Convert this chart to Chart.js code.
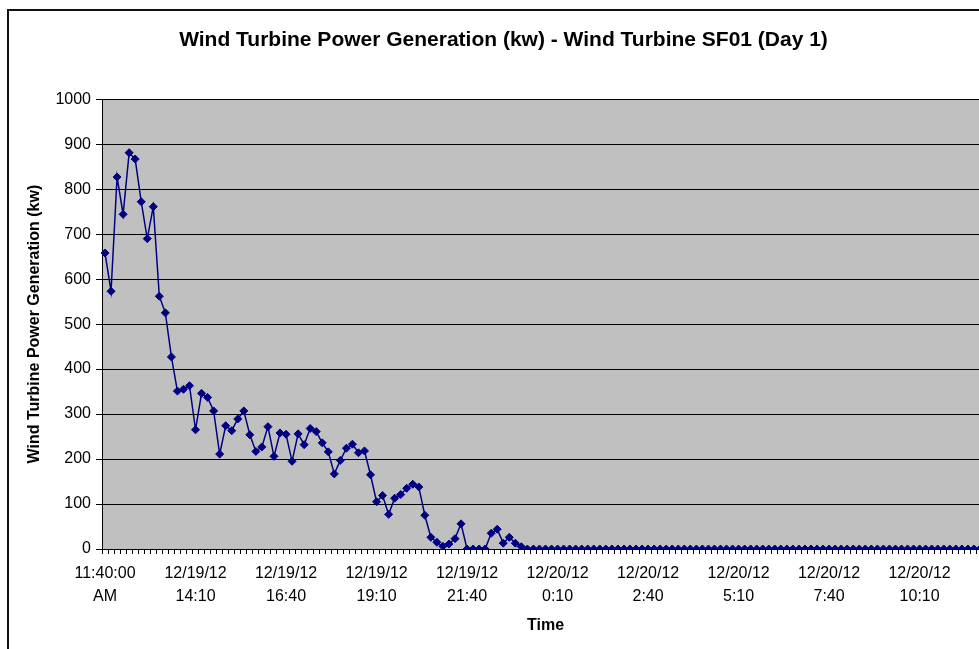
<!DOCTYPE html>
<html>
<head>
<meta charset="utf-8">
<script src="https://cdn.jsdelivr.net/npm/chart.js@4.4.1/dist/chart.umd.min.js"></script>
<style>
  html, body { margin: 0; padding: 0; width: 979px; height: 649px; overflow: hidden; background: #fff; }
  #frame { position: absolute; left: 7px; top: 9px; width: 994px; height: 700px; border: 2px solid #111; box-sizing: border-box; }
  #c { position: absolute; left: 0; top: 0; }
</style>
</head>
<body>
<div id="frame"></div>
<canvas id="c" width="1001" height="649"></canvas>
<script>
// Power (kw), one reading every 10 minutes starting 12/19/12 11:40
const power = [
  658, 573, 827, 744, 881, 867, 772, 690, 761, 562,
  525, 427, 351, 355, 363, 265, 346, 337, 307, 211,
  274, 263, 289, 307, 254, 217, 227, 272, 206, 258,
  255, 195, 256, 232, 268, 261, 236, 216, 167, 197,
  224, 233, 214, 218, 165, 105, 119, 77, 113, 121,
  135, 144, 138, 75, 26, 15, 6, 11, 23, 56,
  0, 0, 0, 0, 35, 44, 13, 26, 13, 5,
  0, 0, 0, 0, 0, 0, 0, 0, 0, 0,
  0, 0, 0, 0, 0, 0, 0, 0, 0, 0,
  0, 0, 0, 0, 0, 0, 0, 0, 0, 0,
  0, 0, 0, 0, 0, 0, 0, 0, 0, 0,
  0, 0, 0, 0, 0, 0, 0, 0, 0, 0,
  0, 0, 0, 0, 0, 0, 0, 0, 0, 0,
  0, 0, 0, 0, 0, 0, 0, 0, 0, 0,
  0, 0, 0, 0, 0, 0, 0
];

// Axis labels shown every 15 readings (2.5 h)
const tickLabels = [
  ["11:40:00", "AM"],
  ["12/19/12", "14:10"],
  ["12/19/12", "16:40"],
  ["12/19/12", "19:10"],
  ["12/19/12", "21:40"],
  ["12/20/12", "0:10"],
  ["12/20/12", "2:40"],
  ["12/20/12", "5:10"],
  ["12/20/12", "7:40"],
  ["12/20/12", "10:10"]
];
const tickEvery = 15;

const yTicks = [0, 100, 200, 300, 400, 500, 600, 700, 800, 900, 1000];

// category names: timestamps every 10 minutes
const categories = power.map((_, i) => {
  const m = 11 * 60 + 40 + i * 10;
  const day = m >= 1440 ? 20 : 19;
  const mm = m % 1440;
  return "12/" + day + "/12 " + Math.floor(mm / 60) + ":" + String(mm % 60).padStart(2, "0");
});

const FONT = "'Liberation Sans', Arial, sans-serif";

const plotBg = {
  id: 'plotBg',
  beforeDraw(chart) {
    const a = chart.chartArea, ctx = chart.ctx;
    ctx.save();
    ctx.fillStyle = '#C0C0C0';
    ctx.fillRect(a.left, a.top, a.right - a.left, a.bottom - a.top);
    ctx.restore();
  }
};

new Chart(document.getElementById('c'), {
  type: 'line',
  data: {
    labels: categories,
    datasets: [{
      data: power,
      borderColor: '#000080',
      backgroundColor: '#000080',
      borderWidth: 1.5,
      pointStyle: 'rectRot',
      pointRadius: 4,
      pointBorderWidth: 1,
      pointBackgroundColor: '#000080',
      pointBorderColor: '#000080',
      tension: 0,
      fill: false
    }]
  },
  options: {
    responsive: false,
    animation: false,
    devicePixelRatio: 1,
    layout: { padding: { left: 18, right: 12, top: 0, bottom: 0 } },
    plugins: {
      legend: { display: false },
      tooltip: { enabled: false },
      title: {
        display: true,
        text: 'Wind Turbine Power Generation (kw) - Wind Turbine SF01 (Day 1)',
        color: '#000',
        font: { family: FONT, size: 21, weight: 'bold', lineHeight: 1.2 },
        padding: { top: 28, bottom: 46 }
      }
    },
    scales: {
      x: {
        type: 'category',
        offset: true,
        afterFit(s) { s.height = 100; },
        border: { display: true, color: '#000', width: 1 },
        grid: { display: true, drawOnChartArea: false, drawTicks: true, tickLength: 5, offset: true, color: '#000', tickColor: '#000' },
        ticks: {
          autoSkip: false, maxRotation: 0, minRotation: 0,
          padding: 8,
          color: '#000',
          font: { family: FONT, size: 16, lineHeight: 1.44 },
          callback: (v, i) => (i % tickEvery === 0 && tickLabels[i / tickEvery]) ? tickLabels[i / tickEvery] : ''
        },
        title: {
          display: true, text: 'Time', color: '#000',
          font: { family: FONT, size: 16, weight: 'bold', lineHeight: 1.2 },
          padding: { top: 0, bottom: 14 }
        }
      },
      y: {
        min: 0, max: 1000,
        afterFit(s) { s.width = 84; },
        afterBuildTicks(s) { s.ticks = yTicks.map(v => ({ value: v })); },
        border: { display: true, color: '#000', width: 1 },
        grid: { color: '#000', tickColor: '#000', tickLength: 6, lineWidth: 1 },
        ticks: {
          padding: 5, color: '#000',
          font: { family: FONT, size: 16 },
          callback: (v) => String(v)
        },
        title: {
          display: true, text: 'Wind Turbine Power Generation (kw)', color: '#000',
          font: { family: FONT, size: 16, weight: 'bold', lineHeight: 1.2 },
          padding: { top: 7, bottom: 0 }
        }
      }
    }
  },
  plugins: [plotBg]
});
</script>
</body>
</html>
